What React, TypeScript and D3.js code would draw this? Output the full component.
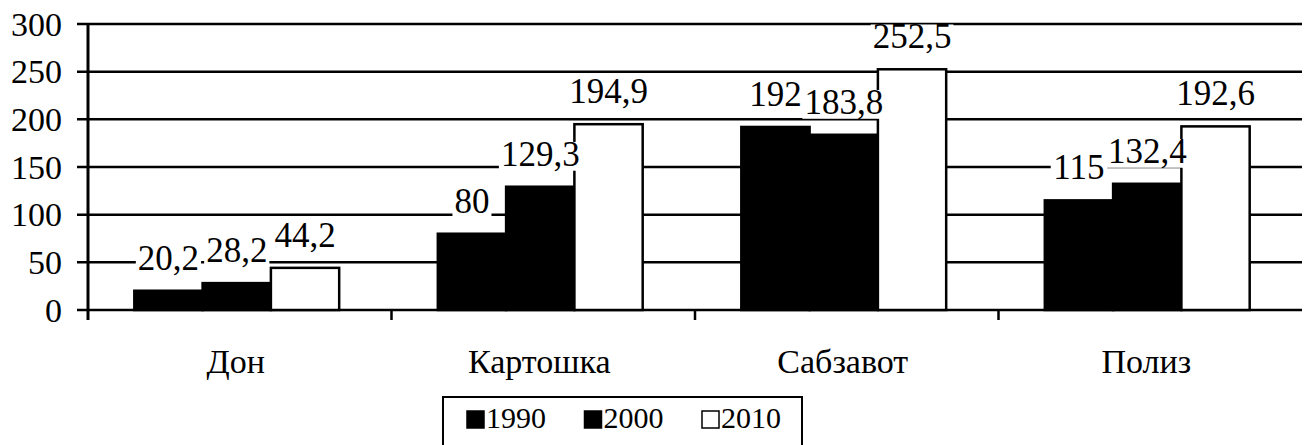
import React from 'react';
import * as d3 from 'd3';

// chart data
const categories = ['Дон', 'Картошка', 'Сабзавот', 'Полиз'];
const years = ['1990', '2000', '2010'];
const values1990 = [20.2, 80, 192, 115];
const values2000 = [28.2, 129.3, 183.8, 132.4];
const values2010 = [44.2, 194.9, 252.5, 192.6];
const yTicks = [0, 50, 100, 150, 200, 250, 300];

const series = [values1990, values2000, values2010];
const fills = ['#000', '#000', '#fff'];

const W = 1307;
const H = 445;

const fmt = (v: number) => String(v).replace('.', ',');
// rough width of a label in Times-like font
const textWidth = (s: string, size: number) =>
  s.split('').reduce((w, c) => w + (c === ',' ? 0.25 : 0.5), 0) * size;

const css = `svg#chart text.tm { font-family: 'Liberation Serif', 'Times New Roman', serif !important; }`;

export default function App() {
  const x0 = d3.scaleBand().domain(categories).range([88, 1302]).paddingInner(0);
  const groupW = x0.bandwidth() * 0.675;
  const x1 = d3.scaleBand().domain(years).range([0, groupW]);
  const y = d3.scaleLinear().domain([0, 300]).range([310, 24]);

  const bars = categories.flatMap((cat, ci) =>
    years.map((yr, si) => {
      const v = series[si][ci];
      const bx = x0(cat)! + (x0.bandwidth() - groupW) / 2 - 3 + x1(yr)!;
      return { cat, yr, si, v, x: bx, w: x1.bandwidth(), yTop: y(v) };
    })
  );

  const labelSize = 35;

  return (
    <svg id="chart" width={W} height={H}
      style={{ position: 'absolute', left: 0, top: 0, background: '#fff' }}>
      <style>{css}</style>
      {/* gridlines */}
      {yTicks.map(t => (
        <line key={t} x1={77} x2={1302} y1={y(t)} y2={y(t)} stroke="#000" strokeWidth={2.5} />
      ))}
      {yTicks.map(t => (
        <text className="tm" key={'t' + t} x={62} y={y(t)} dy="0.34em" textAnchor="end" fontSize={34}>{t}</text>
      ))}

      {/* category ticks */}
      {categories.slice(1).map(c => (
        <line key={c} x1={x0(c)!} x2={x0(c)!} y1={310} y2={320} stroke="#000" strokeWidth={2.5} />
      ))}
      <line x1={88} x2={88} y1={24} y2={320} stroke="#000" strokeWidth={3} />

      {/* bars */}
      {bars.map(b => (
        <rect key={b.cat + b.yr} x={b.x} y={b.yTop} width={b.w} height={310 - b.yTop}
          fill={fills[b.si]} stroke="#000" strokeWidth={2.5} />
      ))}

      {/* value labels */}
      {bars.map(b => {
        const s = fmt(b.v);
        const tw = textWidth(s, labelSize);
        const cx = b.x + b.w / 2;
        const base = b.yTop - 21;
        return (
          <g key={'l' + b.cat + b.yr}>
            <rect x={cx - tw / 2 - 2} y={base - labelSize * 0.68} width={tw + 4}
              height={labelSize * 0.68 + 5} fill="#fff" />
            <text className="tm" x={cx} y={base} textAnchor="middle" fontSize={labelSize}>{s}</text>
          </g>
        );
      })}

      {/* category labels */}
      {categories.map(c => (
        <text className="tm" key={'c' + c} x={x0(c)! + x0.bandwidth() / 2 - 4} y={373} textAnchor="middle"
          fontSize={34}>{c}</text>
      ))}

      {/* legend */}
      <rect x={443} y={397} width={359} height={60} fill="#fff" stroke="#000" strokeWidth={2} />
      {years.map((yr, i) => (
        <g key={'lg' + yr} transform={`translate(${467 + i * 117.5},411)`}>
          <rect x={0} y={0} width={17} height={17} fill={fills[i]} stroke="#000" strokeWidth={1.5} />
          <text className="tm" x={19} y={17} fontSize={30}>{yr}</text>
        </g>
      ))}
    </svg>
  );
}
